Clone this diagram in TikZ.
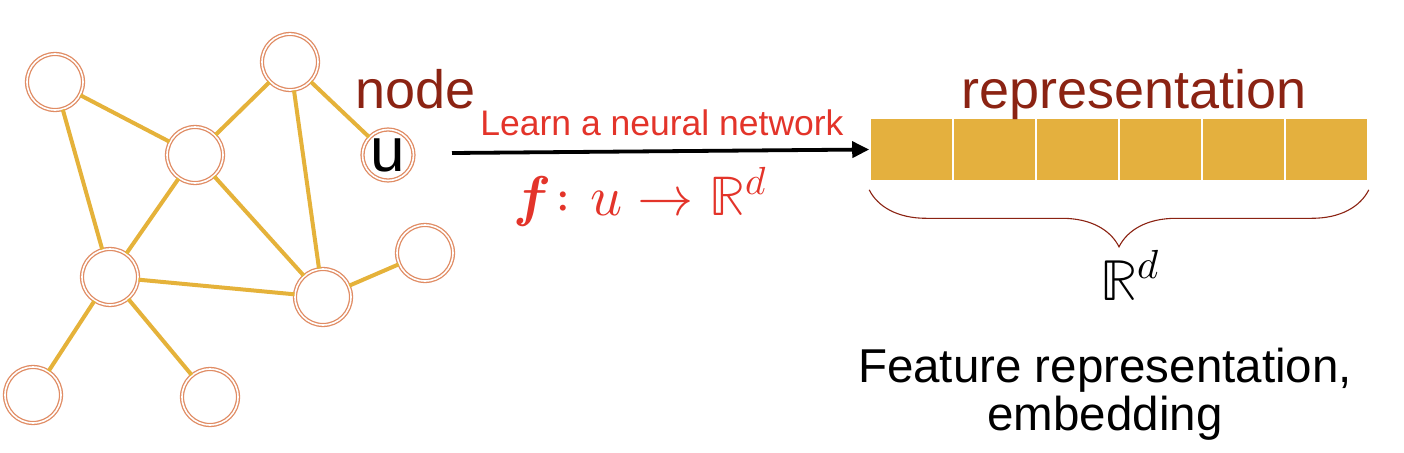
\documentclass[tikz,border=0pt]{standalone}
\usepackage{fontspec}
\usepackage{unicode-math}
\setmainfont{Liberation Sans}
\setmathfont{Latin Modern Math}
\usepackage{tikz}
\usetikzlibrary{positioning}
\usetikzlibrary{arrows.meta}
\usetikzlibrary{decorations.pathreplacing}
\definecolor{ringorange}{RGB}{224,140,100}
\definecolor{edgegold}{RGB}{229,178,58}
\definecolor{cellgold}{RGB}{228,176,62}
\definecolor{titlered}{RGB}{139,35,19}
\definecolor{learnred}{RGB}{227,52,42}
\tikzstyle{vertex}=[circle,draw=ringorange,double=white,double distance=1.6pt,line width=1.3pt,fill=white,minimum size=56pt,inner sep=0pt]
\tikzstyle{smallvertex}=[vertex,minimum size=51pt]
\tikzstyle{undirectededge} = [draw,edgegold,line width=4pt]
\tikzstyle{cell} = [rectangle,fill=cellgold,draw=white,line width=1.6pt,minimum width=83pt,minimum height=63pt,inner sep=0pt]
\tikzstyle{weight} = [font=\fontsize{54}{60}\selectfont,text=titlered]

\begin{document}
\begin{tikzpicture}[x=1pt,y=-1pt]
    \useasboundingbox (0,0) rectangle (1404,452);

    % First we draw the vertices
    \foreach \pos/\name in {{(55,82)/A}, {(195,155)/B}, {(290,62)/C}, {(425,253)/D}, {(110,277)/E}, {(323,297)/F}, {(33,395)/G}, {(210,397)/H}}
        \node[vertex] (\name) at \pos {};
    \node[smallvertex] (u) at (388,155) {\fontsize{62}{62}\selectfont u};

    % Connect vertices with edges
    \foreach \source/ \dest in {A/B, A/E, B/C, B/E, B/F, C/F, C/u, E/F, F/D, E/G, E/H}
          \path[undirectededge] (\source) -- (\dest);
    \node[weight,anchor=base west] (nodelabel) at (352,108) {node};

    % the vector of the representation
    \foreach \i in {1,...,6}
        \node[cell] (c\i) at (828.5+83*\i,149.5) {};
    \node[weight,anchor=base] (reptitle) at (1134,108) {representation};
    \draw[decorate,decoration={brace,mirror,amplitude=57pt},titlered,line width=1.1pt] ([yshift=-8pt]c1.south west) -- ([yshift=-8pt]c6.south east);
    \node[anchor=base] (rd) at (1130,300) {\fontsize{58}{60}\selectfont $\mathbb{R}^d$};

    % the map
    \coordinate (start) at (452,153);
    \draw[line width=3.8pt,-{Triangle[length=17pt,width=16pt]}] (start) -- (c1.west);
    \node[anchor=base,text=learnred,font=\fontsize{35.5}{40}\selectfont] (learn) at (662,135) {Learn a neural network};
    \node[anchor=base,text=learnred] (map) at (640,215) {\fontsize{56}{60}\selectfont $\symbfit{f}\colon u \to \mathbb{R}^d$};

    \node[anchor=base,align=center,font=\fontsize{47.5}{48}\selectfont] (feature) at (1105,430) {Feature representation,\\embedding};
\end{tikzpicture}
\end{document}
